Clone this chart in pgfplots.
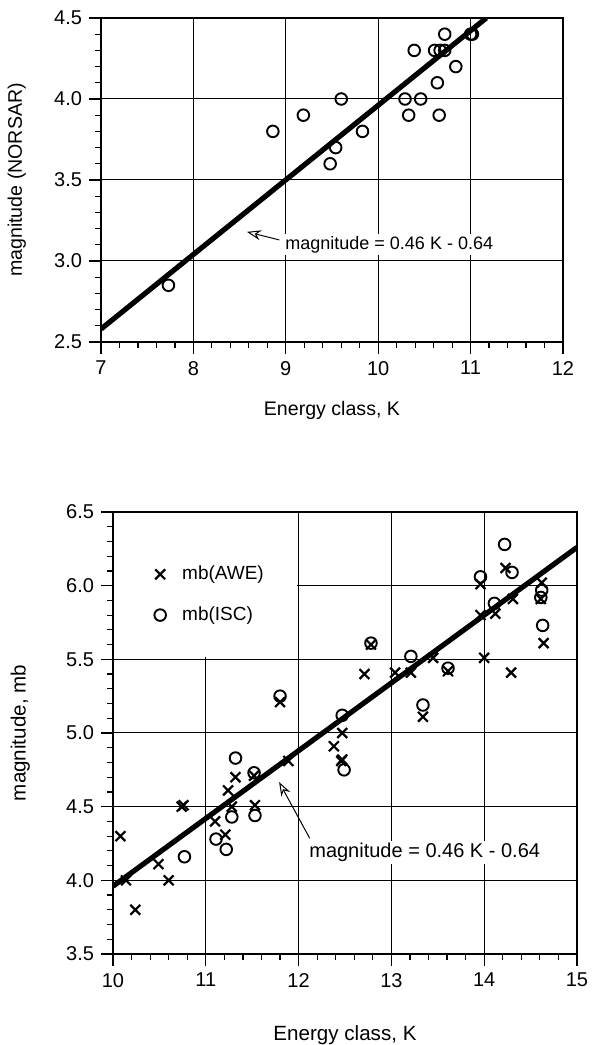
\documentclass[border=0pt]{standalone}
\usepackage{fontspec}
\setmainfont{Liberation Sans}
\usepackage{pgfplots}
\pgfplotsset{compat=1.18}
\usetikzlibrary{arrows.meta}

% common look of both panels
\pgfplotsset{
  energy/.style={
    scale only axis,
    xtick align=outside, ytick align=outside,
    xtick pos=bottom, ytick pos=left,
    major tick length=6pt,
    minor tick length=2.8pt,
    tick style={black, line width=0.6pt},
    grid=major,
    major grid style={black, line width=0.5pt},
    axis line style={line width=0.6pt},
    tick label style={font=\fontsize{10}{12}\selectfont},
    label style={font=\fontsize{9.8}{12}\selectfont},
    /pgf/number format/assume math mode=true,
    yticklabel style={/pgf/number format/.cd, fixed, fixed zerofill, precision=1},
    xlabel={Energy class, K},
  },
  fitline/.style={black, line width=2.6pt, no marks, forget plot},
  circ/.style={only marks, mark=o, mark size=2.9pt, mark options={line width=0.95pt, black}},
  cross/.style={only marks, mark=x, mark size=3.5pt, mark options={line width=1.1pt, black}},
}

\begin{document}
\begin{tikzpicture}
  \path[use as bounding box] (0,0) rectangle (295.5pt,522.5pt);

  % top panel: NORSAR
  \begin{axis}[energy,
    at={(50.5pt,351.5pt)}, anchor=south west,
    width=231pt, height=162pt,
    xmin=7, xmax=12, ymin=2.5, ymax=4.5,
    xtick={7,...,12}, ytick={2.5,3.0,...,4.5},
    minor x tick num=4, minor y tick num=4,
    ylabel={magnitude (NORSAR)},
    xlabel style={at={(axis description cs:0.5,-0.21)}, anchor=center},
    ylabel style={at={(axis description cs:-0.182,0.5)}, anchor=center},
    ]
    \addplot[fitline] coordinates {(7,2.58) (11.17,4.5)};
    \addplot[circ] coordinates {
      (7.73,2.85) (8.86,3.80) (9.19,3.90) (9.48,3.60) (9.54,3.70)
      (9.60,4.00) (9.83,3.80) (10.29,4.00) (10.33,3.90) (10.39,4.30)
      (10.46,4.00) (10.61,4.30) (10.64,4.10) (10.66,3.90) (10.67,4.30)
      (10.72,4.30) (10.72,4.40) (10.84,4.20) (11.00,4.40) (11.02,4.40)
    };
    \draw[line width=0.5pt, -{Stealth[open, length=7pt, width=5pt]}]
      (axis cs:8.93,3.13) -- (axis cs:8.58,3.18);
    \node[anchor=west, fill=white, inner sep=1pt, font=\fontsize{9}{11}\selectfont]
      at (axis cs:8.97,3.10) {magnitude = 0.46 K - 0.64};
  \end{axis}

  % bottom panel: AWE and ISC
  \begin{axis}[energy,
    at={(56.5pt,45.5pt)}, anchor=south west,
    width=232pt, height=221pt,
    xmin=10, xmax=15, ymin=3.5, ymax=6.5,
    xtick={10,...,15}, ytick={3.5,4.0,...,6.5},
    minor x tick num=4, minor y tick num=4,
    ylabel={magnitude, mb},
    label style={font=\fontsize{10.3}{12}\selectfont},
    xlabel style={at={(axis description cs:0.5,-0.183)}, anchor=center},
    ylabel style={at={(axis description cs:-0.2,0.5)}, anchor=center},
    legend cell align=left,
    legend image code/.code={%
      \draw[#1] plot coordinates {(0pt,0pt)};
      \path[draw=none, fill=none] (-3pt,0pt) -- (9pt,0pt);},
    legend style={at={(0.075,0.897)}, anchor=north west, draw=none, fill=none,
      row sep=8pt, font=\fontsize{9.5}{11}\selectfont},
    ]
    % white patch behind the legend
    \fill[white] (axis cs:10.012,5.515) rectangle (axis cs:11.985,6.49);
    \addplot[fitline] coordinates {(10,3.96) (15,6.26)};
    \addplot[cross] coordinates {
      (10.08,4.30) (10.14,4.00) (10.24,3.80) (10.49,4.11) (10.60,4.00)
      (10.74,4.50) (10.76,4.51) (11.10,4.40) (11.21,4.31) (11.24,4.61)
      (11.28,4.50) (11.32,4.70) (11.52,4.71) (11.53,4.51) (11.80,5.21)
      (11.89,4.81) (12.38,4.91) (12.46,4.81) (12.47,4.82) (12.47,5.00)
      (12.71,5.40) (12.78,5.60) (13.04,5.41) (13.21,5.41) (13.34,5.11)
      (13.45,5.51) (13.61,5.42) (13.96,5.80) (13.96,6.01) (14.00,5.51)
      (14.12,5.81) (14.23,6.12) (14.29,5.41) (14.31,5.91) (14.61,5.91)
      (14.62,6.02) (14.64,5.61)
    };
    \addlegendentry{mb(AWE)}
    \addplot[circ] coordinates {
      (10.77,4.16) (11.11,4.28) (11.22,4.21) (11.28,4.43) (11.32,4.83)
      (11.52,4.73) (11.53,4.44) (11.80,5.25) (12.47,5.12) (12.49,4.75)
      (12.78,5.61) (13.21,5.52) (13.34,5.19) (13.61,5.44) (13.96,6.06)
      (14.11,5.88) (14.22,6.28) (14.30,6.09) (14.62,5.97) (14.61,5.92)
      (14.63,5.73)
    };
    \addlegendentry{mb(ISC)}
    \draw[line width=0.5pt, -{Stealth[open, length=7pt, width=5pt]}]
      (axis cs:12.12,4.285) -- (axis cs:11.79,4.667);
    \node[anchor=west, fill=white, inner sep=1pt, font=\fontsize{10}{12}\selectfont]
      at (axis cs:12.09,4.19) {magnitude = 0.46 K - 0.64};
  \end{axis}
\end{tikzpicture}
\end{document}
